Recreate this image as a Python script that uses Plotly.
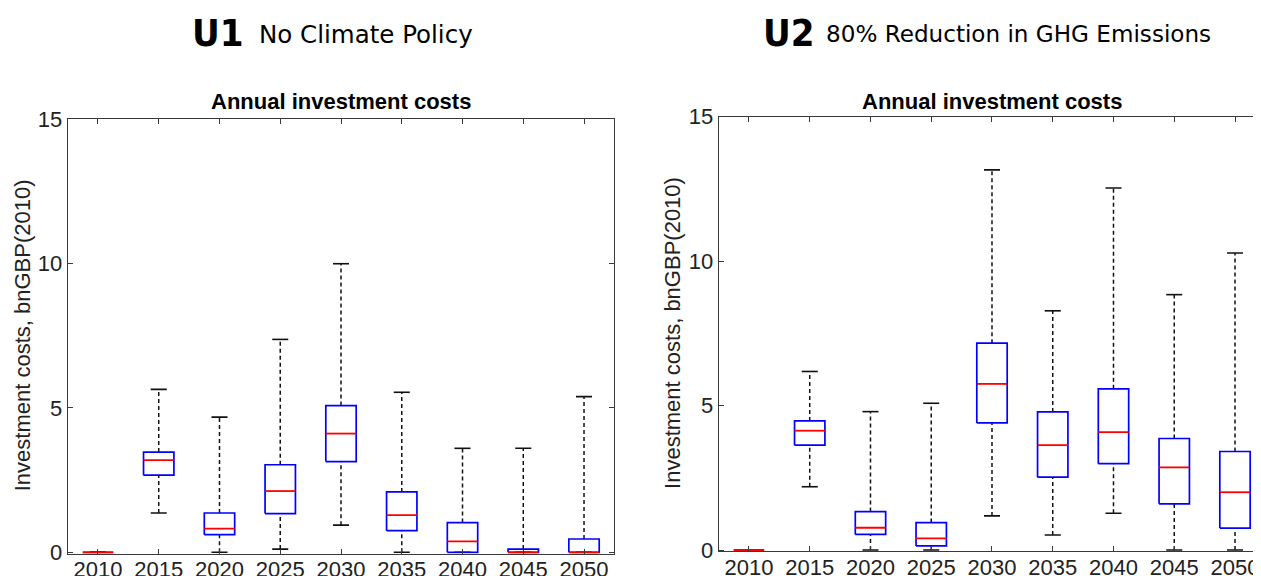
import plotly.graph_objects as go

# ---------------- data ----------------
years = [2010, 2015, 2020, 2025, 2030, 2035, 2040, 2045, 2050]
year_labels = [str(y) for y in years]
y_ticks = [0, 5, 10, 15]

# U1 - No Climate Policy
u1_lower = [0, 1.36, 0.00, 0.11, 0.94, 0.00, 0.00, 0.00, 0.00]
u1_q1 = [0, 2.67, 0.61, 1.34, 3.14, 0.75, 0.00, 0.00, 0.00]
u1_median = [0, 3.19, 0.82, 2.12, 4.11, 1.29, 0.38, 0.00, 0.00]
u1_q3 = [0, 3.47, 1.36, 3.03, 5.08, 2.09, 1.03, 0.11, 0.46]
u1_upper = [0, 5.64, 4.68, 7.37, 9.99, 5.54, 3.60, 3.60, 5.39]

# U2 - 80% Reduction in GHG Emissions
u2_lower = [0, 2.19, 0.00, 0.00, 1.18, 0.52, 1.27, 0.00, 0.00]
u2_q1 = [0, 3.63, 0.54, 0.14, 4.40, 2.52, 2.99, 1.60, 0.76]
u2_median = [0, 4.13, 0.77, 0.40, 5.75, 3.63, 4.08, 2.86, 2.00]
u2_q3 = [0, 4.47, 1.33, 0.95, 7.16, 4.78, 5.58, 3.86, 3.41]
u2_upper = [0, 6.18, 4.79, 5.08, 13.16, 8.28, 12.53, 8.84, 10.28]

header_u1 = ("U1", "No Climate Policy")
header_u2 = ("U2", "80% Reduction in GHG Emissions")
panel_title = "Annual investment costs"
y_title = "Investment costs, bnGBP(2010)"

# ---------------- styles ----------------
OFF = 8          # page body margin of the browser
W, H = 1261 - OFF, 576 - OFF
BOX_W = 2.5      # box width in years
CAP_HALF = 0.66  # whisker cap half-width in years
Y_MIN = -0.05    # tiny pad so marks at zero stay visible on the axis line
PX_PER_UNIT = 28.87
TXT = "#222222"
AXC = "#3a3a3a"
FONT = "Liberation Sans, Arial, Helvetica, sans-serif"


def sx(x):
    """screen x pixel -> paper fraction"""
    return (x - OFF) / W


def sy(y):
    """screen y pixel -> paper fraction"""
    return 1 - (y - OFF) / H


def add_panel(fig, xa, ya, lower, q1, med, q3, upper):
    # dashed whiskers
    wx, wy = [], []
    for yr, lo, a, b, hi in zip(years, lower, q1, q3, upper):
        wx += [yr, yr, None, yr, yr, None]
        wy += [b, hi, None, lo, a, None]
    fig.add_trace(go.Scatter(x=wx, y=wy, mode="lines", xaxis=xa, yaxis=ya,
                             line=dict(color="#111111", width=1.5, dash="4px,3px"),
                             hoverinfo="skip", showlegend=False))
    # caps
    cx, cy = [], []
    for yr, lo, hi in zip(years, lower, upper):
        cx += [yr - CAP_HALF, yr + CAP_HALF, None, yr - CAP_HALF, yr + CAP_HALF, None]
        cy += [hi, hi, None, lo, lo, None]
    fig.add_trace(go.Scatter(x=cx, y=cy, mode="lines", xaxis=xa, yaxis=ya,
                             line=dict(color="#111111", width=1.6),
                             hoverinfo="skip", showlegend=False))
    # boxes
    bx, by = [], []
    for yr, a, b in zip(years, q1, q3):
        l, r = yr - BOX_W / 2, yr + BOX_W / 2
        bx += [l, r, r, l, l, None]
        by += [a, a, b, b, a, None]
    fig.add_trace(go.Scatter(x=bx, y=by, mode="lines", xaxis=xa, yaxis=ya,
                             line=dict(color="#0000ff", width=1.7),
                             hoverinfo="skip", showlegend=False))
    # medians
    mx, my = [], []
    for yr, m in zip(years, med):
        mx += [yr - BOX_W / 2, yr + BOX_W / 2, None]
        my += [m, m, None]
    fig.add_trace(go.Scatter(x=mx, y=my, mode="lines", xaxis=xa, yaxis=ya,
                             line=dict(color="#ff0000", width=1.8),
                             hoverinfo="skip", showlegend=False))


fig = go.Figure()
add_panel(fig, "x", "y", u1_lower, u1_q1, u1_median, u1_q3, u1_upper)
add_panel(fig, "x2", "y2", u2_lower, u2_q1, u2_median, u2_q3, u2_upper)

axis_common = dict(showline=True, linecolor=AXC, linewidth=1, mirror="ticks",
                   ticks="inside", ticklen=5, tickcolor=AXC, tickwidth=1,
                   showgrid=False, zeroline=False, automargin=False,
                   tickfont=dict(family=FONT, size=22, color=TXT),
                   fixedrange=True)
xaxis_extra = dict(ticklabelstandoff=-4)
pad_px = -Y_MIN * PX_PER_UNIT

fig.update_layout(
    template="none",
    width=W, height=H,
    margin=dict(l=0, r=0, t=0, b=0, pad=0),
    paper_bgcolor="white", plot_bgcolor="white",
    showlegend=False,
    xaxis=dict(domain=[sx(67.6), sx(614.4)], range=[2007.5, 2052.5],
               tickvals=years, ticktext=year_labels, anchor="y",
               **axis_common, **xaxis_extra),
    yaxis=dict(domain=[sy(552.3 + pad_px), sy(119)], range=[Y_MIN, 15],
               tickvals=y_ticks, ticktext=[str(v) for v in y_ticks],
               anchor="x", **axis_common),
    xaxis2=dict(domain=[sx(718.6), 1.0], range=[2007.5, 2052.14],
                tickvals=years, ticktext=year_labels, anchor="y2",
                **axis_common, **xaxis_extra),
    yaxis2=dict(domain=[sy(550 + pad_px), sy(116.7)], range=[Y_MIN, 15],
                tickvals=y_ticks, ticktext=[str(v) for v in y_ticks],
                anchor="x2", **axis_common),
)

HEAD_BOLD = "Liberation Sans Narrow, DejaVu Sans Condensed, sans-serif"
HEAD_REG = "DejaVu Sans, sans-serif"

# headers
fig.add_annotation(text="<b>%s</b>" % header_u1[0], x=sx(190), y=sy(33),
                   xref="paper", yref="paper", xanchor="left", yanchor="middle",
                   showarrow=False, font=dict(family=HEAD_BOLD, size=38, color="black"))
fig.add_annotation(text=header_u1[1], x=sx(257), y=sy(34),
                   xref="paper", yref="paper", xanchor="left", yanchor="middle",
                   showarrow=False, font=dict(family=HEAD_REG, size=24.5, color="black"))
fig.add_annotation(text="<b>%s</b>" % header_u2[0], x=sx(761), y=sy(33),
                   xref="paper", yref="paper", xanchor="left", yanchor="middle",
                   showarrow=False, font=dict(family=HEAD_BOLD, size=38, color="black"))
fig.add_annotation(text=header_u2[1], x=sx(824), y=sy(34),
                   xref="paper", yref="paper", xanchor="left", yanchor="middle",
                   showarrow=False, font=dict(family=HEAD_REG, size=23.1, color="black"))
# panel titles
for cxp in (341.0, 992.0):
    fig.add_annotation(text="<b>%s</b>" % panel_title, x=sx(cxp), y=sy(101),
                       xref="paper", yref="paper", xanchor="center", yanchor="middle",
                       showarrow=False, font=dict(family=FONT, size=22, color="black"))
# y titles
for cxp, cyp in ((22.7, 335.6), (672.5, 333.4)):
    fig.add_annotation(text=y_title, x=sx(cxp), y=sy(cyp), textangle=-90,
                       xref="paper", yref="paper", xanchor="center", yanchor="middle",
                       showarrow=False, font=dict(family=FONT, size=22, color=TXT))

fig.write_html("out.html")
